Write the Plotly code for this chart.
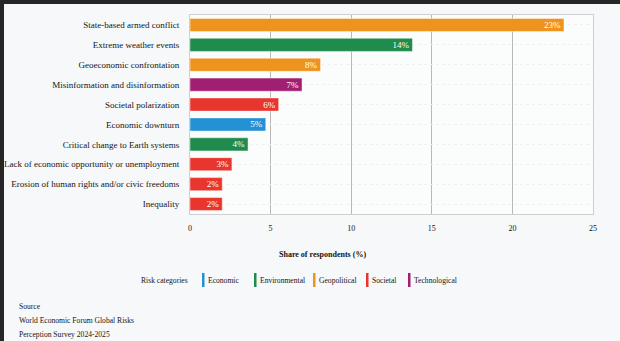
import plotly.graph_objects as go

risks = [
    "State-based armed conflict",
    "Extreme weather events",
    "Geoeconomic confrontation",
    "Misinformation and disinformation",
    "Societal polarization",
    "Economic downturn",
    "Critical change to Earth systems",
    "Lack of economic opportunity or unemployment",
    "Erosion of human rights and/or civic freedoms",
    "Inequality",
]
shares = [23.2, 13.8, 8.1, 6.95, 5.5, 4.7, 3.6, 2.6, 2.0, 2.0]
share_labels = ["23%", "14%", "8%", "7%", "6%", "5%", "4%", "3%", "2%", "2%"]
risk_category = ["Geopolitical", "Environmental", "Geopolitical", "Technological", "Societal",
                 "Economic", "Environmental", "Societal", "Societal", "Societal"]
categories = ["Economic", "Environmental", "Geopolitical", "Societal", "Technological"]
category_colors = {
    "Economic": "#2391d3",
    "Environmental": "#1f8b4c",
    "Geopolitical": "#ef931f",
    "Societal": "#e8352e",
    "Technological": "#a11f72",
}
x_ticks = [0, 5, 10, 15, 20, 25]

FONT = "Liberation Serif"
TXT = "#151515"

# plot area in pixels
W, H = 620, 341
L, R, T, B = 190, 27, 15, 127
pw, ph = W - L - R, H - T - B


def px_x(px):
    return (px - L) / pw


def px_y(py):
    return (H - B - py) / ph


fig = go.Figure()
fig.add_trace(go.Bar(
    x=shares, y=risks, orientation="h",
    marker=dict(color=[category_colors[c] for c in risk_category],
                line=dict(color="rgba(255,255,255,0.45)", width=1)),
    text=share_labels, textposition="inside", insidetextanchor="end",
    textfont=dict(family=FONT, size=9, color="white"),
    showlegend=False, hoverinfo="x+y",
))

shapes = []
annotations = []

# outer dark frame (left and top)
shapes.append(dict(type="rect", xref="paper", yref="paper", x0=px_x(0), x1=px_x(4),
                   y0=px_y(H), y1=px_y(0), fillcolor="#262626", line=dict(width=0), layer="above"))
shapes.append(dict(type="rect", xref="paper", yref="paper", x0=px_x(0), x1=px_x(W),
                   y0=px_y(4), y1=px_y(0), fillcolor="#262626", line=dict(width=0), layer="above"))

# axis title
annotations.append(dict(xref="paper", yref="paper", x=px_x(322), y=px_y(254), text="<b>Share of respondents (%)</b>",
                        showarrow=False, font=dict(family=FONT, size=8, color=TXT),
                        xanchor="center", yanchor="middle"))

# legend
annotations.append(dict(xref="paper", yref="paper", x=px_x(139), y=px_y(280), text="Risk categories",
                        showarrow=False, font=dict(family=FONT, size=7.6, color=TXT),
                        xanchor="left", yanchor="middle"))
legend_x = [202, 254, 313, 366, 408]
for cat, lx in zip(categories, legend_x):
    shapes.append(dict(type="rect", xref="paper", yref="paper", x0=px_x(lx), x1=px_x(lx + 2.5),
                       y0=px_y(287), y1=px_y(273), fillcolor=category_colors[cat], line=dict(width=0)))
    annotations.append(dict(xref="paper", yref="paper", x=px_x(lx + 3.5), y=px_y(280), text=cat,
                            showarrow=False, font=dict(family=FONT, size=7.6, color=TXT),
                            xanchor="left", yanchor="middle"))

# source
for i, line in enumerate(["Source", "World Economic Forum Global Risks", "Perception Survey 2024-2025"]):
    annotations.append(dict(xref="paper", yref="paper", x=px_x(17), y=px_y(306 + 14 * i), text=line,
                            showarrow=False, font=dict(family=FONT, size=7.6, color=TXT),
                            xanchor="left", yanchor="middle"))

fig.update_layout(
    width=W, height=H,
    margin=dict(l=L, r=R, t=T, b=B, pad=0, autoexpand=False),
    paper_bgcolor="#f6f8fa",
    plot_bgcolor="#fbfcfc",
    bargap=0.34,
    shapes=shapes,
    annotations=annotations,
    uniformtext=dict(minsize=9, mode="show"),
    font=dict(family=FONT, size=9, color=TXT),
    xaxis=dict(range=[0, 25], tickvals=x_ticks, ticks="", showgrid=True, gridcolor="#b8b8b8",
               gridwidth=1, zeroline=False, showline=True, linecolor="#cfcfcf", mirror=True,
               automargin=False, ticklabelstandoff=6, tickfont=dict(family=FONT, size=8, color=TXT),
               fixedrange=True),
    yaxis=dict(autorange="reversed", ticks="", showgrid=True, gridcolor="#f0f0f0", griddash="dot",
               showline=True, linecolor="#cfcfcf", mirror=True, ticklabelstandoff=8, automargin=False,
               tickfont=dict(family=FONT, size=9, color=TXT), fixedrange=True),
)

fig.write_html("out.html")
